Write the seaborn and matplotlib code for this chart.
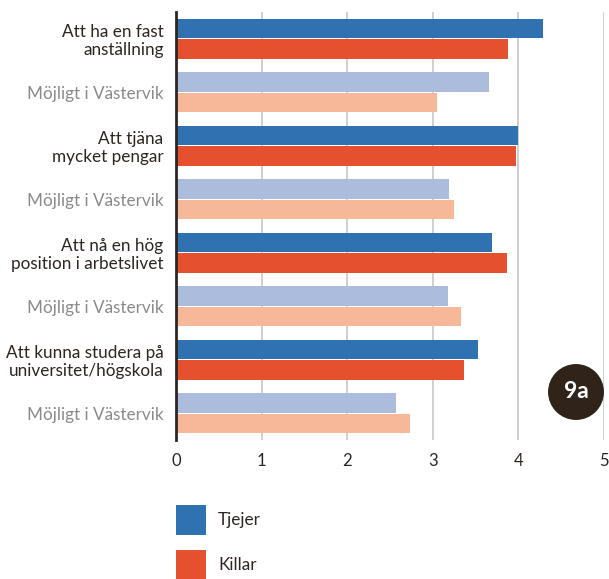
import matplotlib
matplotlib.use("Agg")
import matplotlib.pyplot as plt
from matplotlib.patches import Patch
import seaborn as sns
import pandas as pd

# ---- data ----
row_labels = [
    "Att ha en fast\nanställning",
    "Möjligt i Västervik",
    "Att tjäna\nmycket pengar",
    "Möjligt i Västervik",
    "Att nå en hög\nposition i arbetslivet",
    "Möjligt i Västervik",
    "Att kunna studera på\nuniversitet/högskola",
    "Möjligt i Västervik",
]
is_possible = [False, True, False, True, False, True, False, True]
tjejer = [4.29, 3.66, 4.00, 3.19, 3.69, 3.18, 3.53, 2.57]
killar = [3.88, 3.05, 3.98, 3.25, 3.87, 3.33, 3.37, 2.74]
series_names = ["Tjejer", "Killar"]
x_ticks = [0, 1, 2, 3, 4, 5]
badge_text = "9a"

# ---- styling ----
C_BLUE = "#3071b1"
C_RED = "#e5502f"
C_LBLUE = "#abbcdd"
C_LRED = "#f7b899"
C_TEXT = "#2d2520"
C_GRAY = "#8a8a8a"
C_GRID = "#cfcfcf"
C_BADGE = "#30231a"
FS = 12.3

sns.set_theme(style="white")
plt.rcParams["font.family"] = ["Lato", "DejaVu Sans"]

keys = [f"r{i}" for i in range(len(row_labels))]
df = pd.DataFrame({
    "row": keys * 2,
    "value": tjejer + killar,
    "kon": [series_names[0]] * len(keys) + [series_names[1]] * len(keys),
})

fig = plt.figure(figsize=(6.09, 5.79), dpi=100)
ax = fig.add_axes([176 / 609, 1 - 440 / 579, (603.7 - 176) / 609, (440 - 12) / 579])

sns.barplot(data=df, y="row", x="value", hue="kon", order=keys,
            hue_order=series_names, palette=[C_BLUE, C_RED],
            orient="h", width=0.77, gap=0.04, errorbar=None,
            saturation=1, ax=ax, legend=False, zorder=3)

light = {0: C_LBLUE, 1: C_LRED}
for h, cont in enumerate(ax.containers):
    for i, bar in enumerate(cont):
        if is_possible[i]:
            bar.set_facecolor(light[h])
        bar.set_edgecolor("none")

ax.set_xlim(0, 5)
ax.set_ylim(len(keys) - 0.5, -0.5)
ax.set_xticks(x_ticks)
ax.set_xticklabels([str(t) for t in x_ticks])
ax.set_yticks(range(len(keys)))
ax.set_yticklabels(row_labels)
ax.set_xlabel("")
ax.set_ylabel("")

for lab, poss in zip(ax.get_yticklabels(), is_possible):
    lab.set_color(C_GRAY if poss else C_TEXT)
    lab.set_fontsize(FS)
    lab.set_linespacing(1.15)
for lab in ax.get_xticklabels():
    lab.set_color(C_TEXT)
    lab.set_fontsize(12)

ax.tick_params(axis="y", length=0, pad=9)
ax.tick_params(axis="x", length=0, pad=9)

ax.xaxis.grid(True, color=C_GRID, linewidth=1.4, zorder=0)
ax.yaxis.grid(False)
ax.set_axisbelow(True)
for s in ["top", "right", "bottom"]:
    ax.spines[s].set_visible(False)
ax.spines["left"].set_color(C_TEXT)
ax.spines["left"].set_linewidth(2)
ax.spines["left"].set_zorder(5)

handles = [Patch(facecolor=C_BLUE, edgecolor="none"),
           Patch(facecolor=C_RED, edgecolor="none")]
fpx = FS * 100 / 72
fig.legend(handles, series_names, loc="upper left",
           bbox_to_anchor=(176 / 609, 1 - 505 / 579), frameon=False,
           fontsize=FS, handlelength=30 / fpx, handleheight=2.31,
           handletextpad=0.7, labelspacing=0.9, borderpad=0,
           borderaxespad=0, labelcolor=C_TEXT)

fig.text(576 / 609, 1 - 392 / 579, badge_text, ha="center", va="center",
         color="white", fontsize=16.5, fontweight="bold",
         bbox=dict(boxstyle="circle,pad=0.68", fc=C_BADGE, ec="none"))

fig.savefig("out.png", dpi=100)
